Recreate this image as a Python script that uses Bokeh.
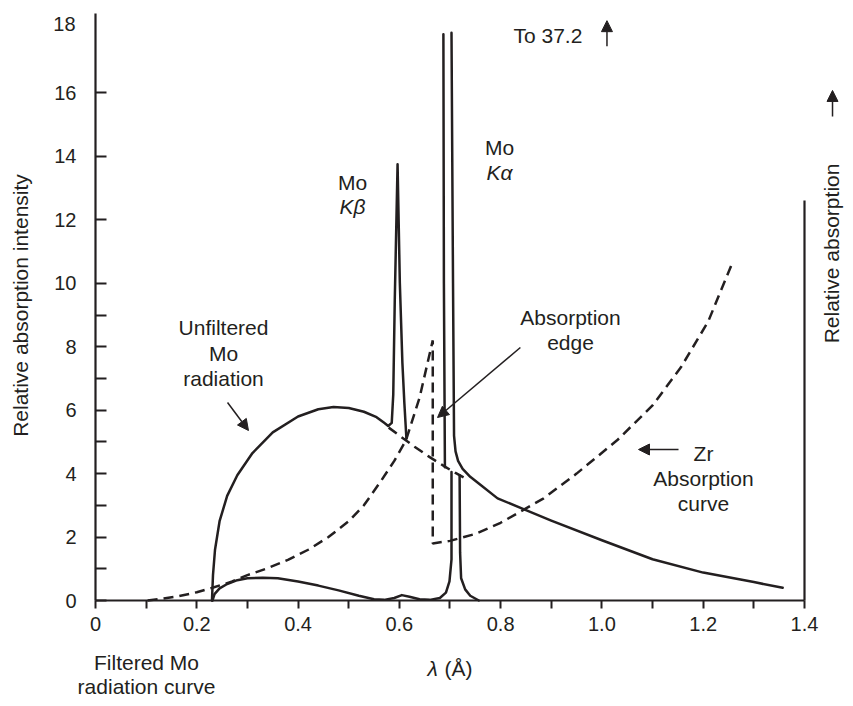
import math
from bokeh.plotting import figure
from bokeh.models import LinearAxis, FixedTicker, Label, Arrow, NormalHead, Range1d
from bokeh.embed import file_html
from bokeh.resources import INLINE

INK = "#231f20"
FONT = "Liberation Sans"

# ---- axis ticks ----
x_ticks = [0, 0.2, 0.4, 0.6, 0.8, 1.0, 1.2, 1.4]
x_tick_labels = ["0", "0.2", "0.4", "0.6", "0.8", "1.0", "1.2", "1.4"]
x_minor_ticks = [0.1, 0.3, 0.5, 0.7, 0.9, 1.1, 1.3]
y_ticks = [0, 2, 4, 6, 8, 10, 12, 14, 16]
y_tick_labels = ["0", "2", "4", "6", "8", "10", "12", "14", "16"]
y_minor_ticks = [1, 3, 5, 7, 9]
y_top_label = "18"

# ---- unfiltered Mo radiation (continuum + K-beta) ----
unf_x = [0.230, 0.232, 0.236, 0.245, 0.260, 0.280, 0.310, 0.350, 0.400, 0.440,
         0.470, 0.500, 0.530, 0.555, 0.570, 0.578, 0.585, 0.588, 0.591, 0.5965,
         0.601, 0.606, 0.610, 0.614]
unf_y = [0.0, 0.8, 1.6, 2.5, 3.3, 3.95, 4.65, 5.3, 5.8, 6.03,
         6.1, 6.07, 5.95, 5.78, 5.6, 5.5, 5.6, 6.5, 9.5, 13.75,
         10.0, 7.5, 6.2, 5.1]
# K-alpha left flank
ka_left_x = [0.690, 0.688, 0.687]
ka_left_y = [4.2, 10.0, 17.85]
# K-alpha right flank and long-wavelength tail
tail_x = [0.703, 0.706, 0.708, 0.711, 0.716, 0.725, 0.740, 0.760, 0.794, 0.850,
          0.900, 1.000, 1.100, 1.200, 1.300, 1.357]
tail_y = [17.9, 10.0, 5.2, 4.7, 4.4, 4.15, 3.9, 3.65, 3.22, 2.85,
          2.52, 1.9, 1.3, 0.88, 0.58, 0.4]
# continuum under the characteristic lines (dashed)
bg_x = [0.579, 0.600, 0.630, 0.660, 0.690, 0.710, 0.727]
bg_y = [5.45, 5.2, 4.85, 4.52, 4.22, 4.03, 3.88]

# ---- Zr absorption curve (dashed) ----
zr_x = [0.103, 0.160, 0.200, 0.231, 0.270, 0.300, 0.340, 0.380, 0.420, 0.460,
        0.500, 0.530, 0.563, 0.590, 0.613, 0.640, 0.666,
        0.666, 0.700, 0.750, 0.800, 0.885, 0.950, 1.030, 1.100, 1.156, 1.210, 1.258]
zr_y = [0.0, 0.12, 0.26, 0.4, 0.6, 0.8, 1.02, 1.28, 1.6, 2.0,
        2.5, 3.0, 3.75, 4.4, 5.05, 6.4, 8.2,
        1.8, 1.88, 2.1, 2.45, 3.22, 4.0, 5.05, 6.15, 7.35, 8.8, 10.66]

# ---- filtered Mo radiation ----
filt_x = [0.231, 0.235, 0.245, 0.260, 0.280, 0.300, 0.330, 0.360, 0.400, 0.440,
          0.480, 0.520, 0.550, 0.570, 0.590, 0.605, 0.620, 0.640, 0.660, 0.680,
          0.692, 0.699, 0.703, 0.703]
filt_y = [0.0, 0.2, 0.38, 0.52, 0.64, 0.7, 0.72, 0.7, 0.6, 0.47,
          0.32, 0.15, 0.04, 0.02, 0.08, 0.17, 0.12, 0.04, 0.02, 0.08,
          0.25, 0.6, 1.3, 4.05]
filt_r_x = [0.719, 0.720, 0.722, 0.730, 0.740, 0.757]
filt_r_y = [3.95, 1.5, 0.7, 0.35, 0.15, 0.0]

# ---- axis extents ----
x_axis_bounds = (0, 1.4)
y_axis_bounds = (0, 18.5)
right_axis_bounds = (0, 12.6)

# frame covers the whole canvas so every text label stays visible
p = figure(width=845, height=698,
           x_range=Range1d(-0.18760, 1.48104), y_range=Range1d(-3.0895, 18.9155),
           output_backend="svg", toolbar_location=None,
           x_axis_location=None, y_axis_location=None, min_border=0)
p.min_border_left = 0
p.min_border_right = 0
p.min_border_top = 0
p.min_border_bottom = 0
p.outline_line_color = None
p.background_fill_color = "white"
p.border_fill_color = "white"
p.grid.visible = False

# axes (fixed inside the frame)
xaxis = LinearAxis(ticker=FixedTicker(ticks=x_ticks, minor_ticks=x_minor_ticks),
                   major_label_overrides={t: l for t, l in zip(x_ticks, x_tick_labels)},
                   fixed_location=0, bounds=x_axis_bounds)
yaxis = LinearAxis(ticker=FixedTicker(ticks=y_ticks, minor_ticks=y_minor_ticks),
                   major_label_overrides={t: l for t, l in zip(y_ticks, y_tick_labels)},
                   fixed_location=0, bounds=y_axis_bounds)
raxis = LinearAxis(ticker=FixedTicker(ticks=[]), fixed_location=1.4, bounds=right_axis_bounds)
for ax in (xaxis, yaxis, raxis):
    ax.axis_line_color = INK
    ax.axis_line_width = 2.2
    ax.major_tick_line_color = INK
    ax.minor_tick_line_color = INK
    ax.major_tick_line_width = 2
    ax.minor_tick_line_width = 2
    ax.major_label_text_font = FONT
    ax.major_label_text_font_size = "20px"
    ax.major_label_text_color = INK
xaxis.major_tick_in = 0
xaxis.major_tick_out = 8
xaxis.minor_tick_in = 0
xaxis.minor_tick_out = 8
xaxis.major_label_standoff = 8
yaxis.major_tick_in = 11
yaxis.major_tick_out = 0
yaxis.minor_tick_in = 11
yaxis.minor_tick_out = 0
yaxis.major_label_standoff = 19
raxis.major_tick_in = 0
raxis.major_tick_out = 0
raxis.minor_tick_in = 0
raxis.minor_tick_out = 0
raxis.major_label_text_font_size = "0px"
p.add_layout(xaxis, "below")
p.add_layout(yaxis, "left")
p.add_layout(raxis, "right")

solid = dict(line_color=INK, line_width=2.5, line_join="round", line_cap="round")
dashed = dict(line_color=INK, line_width=2.5, line_dash="10 6")
p.line(unf_x, unf_y, **solid)
p.line(ka_left_x, ka_left_y, **solid)
p.line(tail_x, tail_y, **solid)
p.line(filt_x, filt_y, **solid)
p.line(filt_r_x, filt_r_y, **solid)
p.line(bg_x, bg_y, **dashed)
p.line(zr_x, zr_y, **dashed)


def lab(x, y, text, size="21px", style="normal", align="center", angle=0.0, x_offset=0):
    p.add_layout(Label(x=x, y=y, text=text, text_font=FONT, text_font_size=size,
                       text_font_style=style, text_color=INK, text_align=align,
                       text_baseline="middle", angle=angle, x_offset=x_offset))


def arrow(x0, y0, x1, y1):
    p.add_layout(Arrow(end=NormalHead(size=11, fill_color=INK, line_color=INK, line_width=1),
                       x_start=x0, y_start=y0, x_end=x1, y_end=y1,
                       line_color=INK, line_width=1.5))


lab(0, 18.19, y_top_label, size="20px", align="right", x_offset=-20)
lab(-0.1481, 9.30, "Relative absorption intensity", angle=math.pi / 2)
lab(1.4534, 10.94, "Relative absorption", angle=math.pi / 2)
arrow(1.4554, 15.26, 1.4554, 16.08)

lab(0.2528, 8.607, "Unfiltered")
lab(0.2528, 7.787, "Mo")
lab(0.2528, 6.999, "radiation")
arrow(0.2607, 6.242, 0.3021, 5.359)

lab(0.5075, 13.18, "Mo")
lab(0.5075, 12.42, "Kβ", style="italic")
lab(0.7978, 14.28, "Mo")
lab(0.7978, 13.49, "Kα", style="italic")

lab(0.8254, 17.81, "To 37.2", align="left")
arrow(1.010, 17.47, 1.010, 18.28)

lab(0.938, 8.92, "Absorption")
lab(0.938, 8.13, "edge")
arrow(0.839, 7.976, 0.6754, 5.769)

lab(1.2006, 4.634, "Zr")
lab(1.2006, 3.846, "Absorption")
lab(1.2006, 3.058, "curve")
arrow(1.1513, 4.76, 1.0723, 4.76)

lab(0.1007, -1.955, "Filtered Mo")
lab(0.1007, -2.711, "radiation curve")
lab(0.6556, -2.143, "λ", style="italic", align="left")
lab(0.6892, -2.143, "(Å)", align="left")

open("out.html", "w").write(file_html(p, INLINE))
